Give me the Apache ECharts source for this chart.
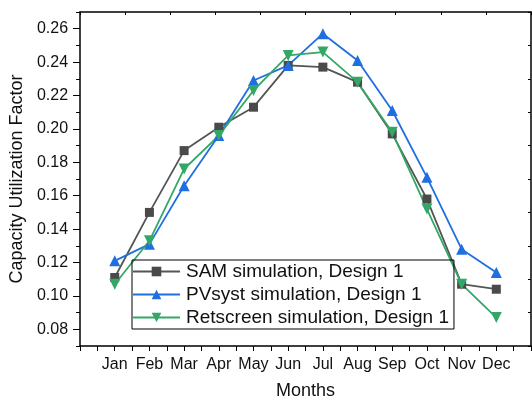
<!DOCTYPE html>
<html><head><meta charset="utf-8">
<script src="https://cdn.jsdelivr.net/npm/echarts@6/dist/echarts.min.js"></script>
<style>html,body{margin:0;padding:0;background:#fff}#c{width:532px;height:405px}</style>
</head><body><div id="c"></div>
<script>
var months = ['Jan','Feb','Mar','Apr','May','Jun','Jul','Aug','Sep','Oct','Nov','Dec'];
var monthPos = [1,2,3,4,5,6,7,8,9,10,11,12];
var samValues = [0.111,0.150,0.187,0.201,0.213,0.238,0.237,0.228,0.197,0.158,0.107,0.104];
var pvsystValues = [0.121,0.131,0.166,0.196,0.229,0.238,0.257,0.241,0.211,0.171,0.128,0.114];
var retscreenValues = [0.107,0.133,0.176,0.196,0.223,0.244,0.246,0.228,0.198,0.152,0.107,0.087];
var yTicks = [0.08,0.10,0.12,0.14,0.16,0.18,0.20,0.22,0.24,0.26];
var seriesNames = ['SAM simulation, Design 1','PVsyst simulation, Design 1','Retscreen simulation, Design 1'];

function pts(vals){ return vals.map(function(v,i){ return [monthPos[i], v]; }); }

var chart = echarts.init(document.getElementById('c'), null, {renderer:'canvas'});
var font = 'Liberation Sans, Arial, sans-serif';
var axisCol = '#000';
chart.setOption({
  animation:false,
  grid:{left:79, right:1, top:12, bottom:52, containLabel:false},
  legend:{
    left:132, top:260, orient:'vertical',
    padding:[2,5,2,0], itemGap:4, itemWidth:47, itemHeight:12,
    borderColor:'#000', borderWidth:1, borderRadius:0,
    textStyle:{fontFamily:font, fontSize:19, color:'#111', lineHeight:19, padding:[0,0,0,1]},
    data:seriesNames
  },
  xAxis:[{
    type:'value', min:0, max:13, interval:0.5, position:'bottom',
    name:'Months', nameLocation:'middle', nameGap:36,
    nameTextStyle:{fontFamily:font, fontSize:18, color:'#111'},
    axisLine:{show:true, onZero:false, lineStyle:{color:axisCol, width:1.5}},
    axisTick:{show:true, inside:false, length:5, lineStyle:{color:axisCol, width:1}},
    axisLabel:{show:true, customValues:monthPos, margin:11, fontFamily:font, fontSize:16, color:'#111',
      formatter:function(v){ var i=Math.round(v)-1; return months[i]||''; }},
    splitLine:{show:false}
  },{
    type:'value', min:0, max:10, interval:1, position:'top',
    axisLine:{show:true, onZero:false, lineStyle:{color:axisCol, width:1.5}},
    axisTick:{show:true, inside:true, length:3, lineStyle:{color:axisCol}},
    axisLabel:{show:false}, splitLine:{show:false}
  }],
  yAxis:[{
    type:'value', min:0.07, max:0.27, position:'left',
    name:'Capacity Utilization Factor', nameLocation:'middle', nameGap:47,
    nameTextStyle:{fontFamily:font, fontSize:18, color:'#111'},
    axisLine:{show:true, onZero:false, lineStyle:{color:axisCol, width:1.5}},
    axisTick:{show:true, inside:false, length:7, customValues:yTicks, lineStyle:{color:axisCol}},
    axisLabel:{show:true, customValues:yTicks, margin:12, fontFamily:font, fontSize:16, color:'#111',
      formatter:function(v){ return v.toFixed(2); }},
    splitLine:{show:false}
  },{
    type:'value', min:0.07, max:0.27, interval:0.02, position:'right',
    axisLine:{show:true, onZero:false, lineStyle:{color:axisCol, width:1.5}},
    axisTick:{show:true, inside:true, length:3, lineStyle:{color:axisCol}},
    axisLabel:{show:false}, splitLine:{show:false}
  },{
    type:'value', min:0.07, max:0.27, interval:0.02, position:'left',
    axisLine:{show:false},
    axisTick:{show:true, inside:false, length:4, lineStyle:{color:axisCol}},
    axisLabel:{show:false}, splitLine:{show:false}
  }],
  series:[{
    name:seriesNames[0], type:'line', data:pts(samValues),
    symbol:'rect', symbolSize:9,
    lineStyle:{color:'#555555', width:1.8}, itemStyle:{color:'#4a4a4a'}
  },{
    name:seriesNames[1], type:'line', data:pts(pvsystValues),
    symbol:'triangle', symbolSize:11,
    lineStyle:{color:'#1f6fe0', width:1.8}, itemStyle:{color:'#1f6fe0'}
  },{
    name:seriesNames[2], type:'line', data:pts(retscreenValues),
    symbol:'triangle', symbolSize:11, symbolRotate:180,
    lineStyle:{color:'#33a866', width:1.8}, itemStyle:{color:'#33a866'}
  }]
});
</script></body></html>
